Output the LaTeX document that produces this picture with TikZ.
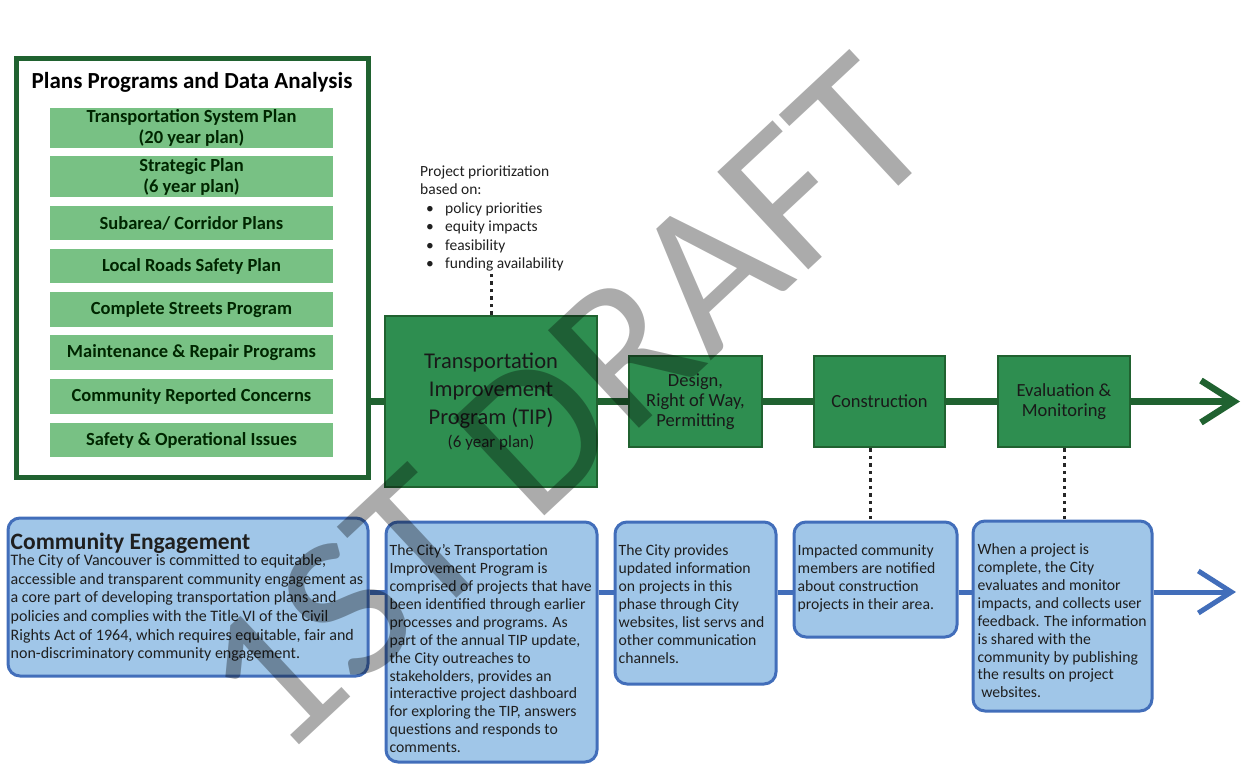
\documentclass[tikz,border=0pt]{standalone}
\usepackage{fontspec}
\setmainfont{Carlito}
\usetikzlibrary{arrows.meta}

\definecolor{darkgreen}{RGB}{32,98,48}
\definecolor{midgreen}{RGB}{46,142,80}
\definecolor{lightgreen}{RGB}{120,193,132}
\definecolor{infoblue}{RGB}{160,198,232}
\definecolor{lineblue}{RGB}{66,110,186}

\begin{document}
\begin{tikzpicture}[x=1pt, y=-1pt,
  planitem/.style={fill=lightgreen, text=black!85!green, minimum width=283pt, inner sep=0pt, align=center, font=\bfseries\fontsize{18.5}{21}\selectfont},
  stage/.style={draw=darkgreen, line width=2.5pt, fill=midgreen, text=black!90, inner sep=0pt, align=center, minimum height=91pt, font=\fontsize{18.5}{20}\selectfont},
  infobox/.style={draw=lineblue, line width=3pt, fill=infoblue, rounded corners=12pt, inner sep=0pt},
  infotext/.style={anchor=north west, inner sep=0pt, align=left, text=black!88, font=\fontsize{15.7}{17.9}\selectfont},
  greenline/.style={darkgreen, line width=6.5pt},
  blueline/.style={lineblue, line width=5pt},
  dots/.style={black!85, line width=3pt, dash pattern=on 3.5pt off 4pt},
]
\useasboundingbox (0,0) rectangle (1243,766);

% plans, programs and data analysis
\node[draw=darkgreen, line width=5pt, minimum width=352pt, minimum height=419pt, inner sep=0pt] (plans) at (192,268) {};
\node[font=\bfseries\fontsize{23}{26}\selectfont] (plans-title) at (192,82) {Plans Programs and Data Analysis};
\node[planitem, minimum height=40pt] (tsp) at (191.5,128) {Transportation System Plan\\(20 year plan)};
\node[planitem, minimum height=41pt] (strategic) at (191.5,176.5) {Strategic Plan\\(6 year plan)};
\node[planitem, minimum height=34pt] (corridor) at (191.5,223) {Subarea/ Corridor Plans};
\node[planitem, minimum height=34pt] (roads) at (191.5,266) {Local Roads Safety Plan};
\node[planitem, minimum height=35pt] (streets) at (191.5,309.5) {Complete Streets Program};
\node[planitem, minimum height=35pt] (repair) at (191.5,352.5) {Maintenance \& Repair Programs};
\node[planitem, minimum height=35pt] (concerns) at (191.5,396.5) {Community Reported Concerns};
\node[planitem, minimum height=34pt] (safety) at (191.5,440) {Safety \& Operational Issues};

% project stages
\node[stage, minimum width=212pt, minimum height=171pt, font=\fontsize{22.5}{28}\selectfont] (tip) at (491,401.5)
  {Transportation\\Improvement\\Program (TIP)\\[-5pt]{\fontsize{17}{20}\selectfont(6 year plan)}};
\node[stage, minimum width=133pt] (design) at (695.5,401.5) {Design,\\Right of Way,\\Permitting};
\node[stage, minimum width=131pt] (constr) at (879.5,401.5) {Construction};
\node[stage, minimum width=132pt] (evalu) at (1064,401.5) {Evaluation \&\\Monitoring};
\coordinate (endg) at (1240,401.5);

\draw[greenline] (plans.east |- tip.west) -- (tip.west);
\draw[greenline] (tip.east) -- (design.west);
\draw[greenline] (design.east) -- (constr.west);
\draw[greenline] (constr.east) -- (evalu.west);
\draw[greenline, -{Straight Barb[length=33pt, width=42pt]}] (evalu.east) -- (endg);

\node[infotext, font=\fontsize{15.5}{18.5}\selectfont] (prio) at (420,165.5)
  {Project prioritization\\based on:\\
   \hspace*{6pt}\makebox[19pt][l]{\textbullet}policy priorities\\
   \hspace*{6pt}\makebox[19pt][l]{\textbullet}equity impacts\\
   \hspace*{6pt}\makebox[19pt][l]{\textbullet}feasibility\\
   \hspace*{6pt}\makebox[19pt][l]{\textbullet}funding availability};

% community engagement
\node[infobox, minimum width=360pt, minimum height=158pt] (engage) at (188,597) {};
\node[infobox, minimum width=211pt, minimum height=240pt] (tipinfo) at (491.5,642) {};
\node[infobox, minimum width=161pt, minimum height=162pt] (stageinfo) at (695.5,603) {};
\node[infobox, minimum width=163pt, minimum height=115pt] (notify) at (875.5,579.5) {};
\node[infobox, minimum width=179pt, minimum height=190pt] (monitor) at (1062.5,616) {};
\coordinate (bl) at (0,592);
\coordinate (endb) at (1236,592);

\node[infotext, font=\fontsize{16}{18.6}\selectfont] (engage-txt) at ([xshift=4pt, yshift=-16pt]engage.north west)
  {{\bfseries\fontsize{23.5}{26}\selectfont Community Engagement}\\[-2pt]
   The City of Vancouver is committed to equitable,\\
   accessible and transparent community engagement as\\
   a core part of developing transportation plans and\\
   policies and complies with the Title VI of the Civil\\
   Rights Act of 1964, which requires equitable, fair and\\
   non-discriminatory community engagement.};
\node[infotext] (tipinfo-txt) at ([xshift=5pt, yshift=-24pt]tipinfo.north west)
  {The City's Transportation\\
   Improvement Program is\\
   comprised of projects that have\\
   been identified through earlier\\
   processes and programs. As\\
   part of the annual TIP update,\\
   the City outreaches to\\
   stakeholders, provides an\\
   interactive project dashboard\\
   for exploring the TIP, answers\\
   questions and responds to\\
   comments.};
\node[infotext] (stageinfo-txt) at ([xshift=5pt, yshift=-24pt]stageinfo.north west)
  {The City provides\\
   updated information\\
   on projects in this\\
   phase through City\\
   websites, list servs and\\
   other communication\\
   channels.};
\node[infotext] (notify-txt) at ([xshift=5pt, yshift=-24pt]notify.north west)
  {Impacted community\\
   members are notified\\
   about construction\\
   projects in their area.};
\node[infotext] (monitor-txt) at ([xshift=6pt, yshift=-24pt]monitor.north west)
  {When a project is\\
   complete, the City\\
   evaluates and monitor\\
   impacts, and collects user\\
   feedback. The information\\
   is shared with the\\
   community by publishing\\
   the results on project\\
   \ websites.};

\draw[blueline] (engage.east |- bl) -- (tipinfo.west |- bl);
\draw[blueline] (tipinfo.east |- bl) -- (stageinfo.west |- bl);
\draw[blueline] (stageinfo.east |- bl) -- (notify.west |- bl);
\draw[blueline] (notify.east |- bl) -- (monitor.west |- bl);
\draw[blueline, -{Straight Barb[length=33pt, width=42pt]}] (monitor.east |- bl) -- (endb);

% dotted links
\draw[dots] (tip.north) -- (tip.north |- prio.south);
\draw[dots] ([xshift=-9pt]constr.south) -- ([xshift=-9pt]constr.south |- notify.north);
\draw[dots] (evalu.south) -- (evalu.south |- monitor.north);

% watermark
\node[rotate=43, text=black, text opacity=0.33, font=\fontsize{208}{208}\selectfont] (draft) at (566,405) {1ST DRAFT};
\end{tikzpicture}
\end{document}
